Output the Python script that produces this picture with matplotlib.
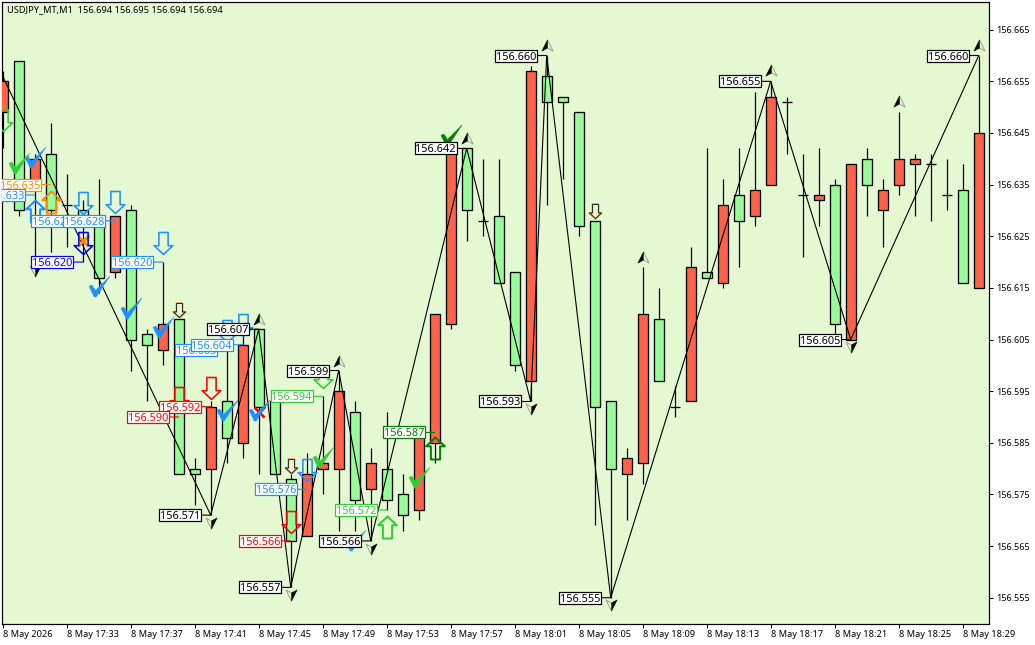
import matplotlib
matplotlib.use("Agg")
import matplotlib.pyplot as plt
from matplotlib.path import Path
from matplotlib.markers import MarkerStyle
from matplotlib.patches import Rectangle
from matplotlib.transforms import Affine2D

plt.rcParams['font.family'] = ['Noto Sans', 'DejaVu Sans']

# ---------- data ----------
opens = [156.655,156.630,156.640,156.630,156.631,156.628,156.617,156.629,156.605,156.604,
         156.608,156.579,156.579,156.592,156.586,156.604,156.592,156.579,156.566,156.579,
         156.581,156.595,156.574,156.581,156.574,156.571,156.587,156.610,156.642,156.630,
         156.628,156.616,156.600,156.657,156.651,156.651,156.627,156.592,156.580,156.582,
         156.610,156.597,156.592,156.619,156.617,156.631,156.628,156.634,156.652,156.651,
         156.633,156.633,156.608,156.639,156.635,156.634,156.640,156.640,156.639,156.633,
         156.616,156.645]
highs = [156.657,156.659,156.641,156.647,156.637,156.632,156.636,156.629,156.631,156.607,
         156.620,156.609,156.582,156.593,156.604,156.606,156.607,156.593,156.579,156.583,
         156.594,156.599,156.593,156.584,156.591,156.579,156.587,156.610,156.642,156.642,
         156.640,156.640,156.618,156.658,156.660,156.652,156.649,156.628,156.593,156.584,
         156.619,156.615,156.596,156.623,156.642,156.636,156.642,156.653,156.655,156.652,
         156.641,156.642,156.636,156.639,156.642,156.636,156.649,156.641,156.641,156.640,
         156.639,156.660]
lows = [156.642,156.629,156.619,156.622,156.623,156.620,156.614,156.617,156.599,156.593,
        156.600,156.579,156.573,156.571,156.581,156.582,156.579,156.579,156.557,156.567,
        156.575,156.568,156.568,156.566,156.572,156.568,156.570,156.581,156.607,156.624,
        156.625,156.616,156.599,156.593,156.631,156.636,156.625,156.569,156.555,156.570,
        156.577,156.597,156.590,156.593,156.617,156.615,156.619,156.627,156.635,156.641,
        156.621,156.627,156.605,156.605,156.629,156.623,156.633,156.629,156.628,156.630,
        156.616,156.615]
closes = [156.649,156.659,156.634,156.641,156.631,156.630,156.629,156.618,156.630,156.606,
          156.603,156.609,156.580,156.580,156.593,156.585,156.607,156.593,156.578,156.567,
          156.580,156.580,156.591,156.576,156.580,156.575,156.572,156.585,156.608,156.642,
          156.628,156.629,156.618,156.597,156.656,156.652,156.649,156.628,156.593,156.579,
          156.581,156.609,156.592,156.593,156.618,156.616,156.633,156.629,156.635,156.651,
          156.633,156.632,156.635,156.605,156.640,156.630,156.635,156.639,156.639,156.633,
          156.634,156.615]

zigzag_bars = [0, 13, 16, 18, 21, 23, 29, 33, 34, 38, 48, 53, 61]
zigzag_prices = [156.656, 156.571, 156.607, 156.557, 156.599, 156.566, 156.642,
                 156.593, 156.660, 156.555, 156.655, 156.605, 156.660]

label_bars = [3, 2, 5, 7, 5, 10, 14, 15, 16, 13, 11, 20, 21, 19, 13, 24, 18, 23, 18,
              27, 29, 34, 33, 38, 48, 53, 61]
label_prices = [156.635, 156.633, 156.628, 156.628, 156.620, 156.620, 156.603, 156.604,
                156.607, 156.592, 156.590, 156.594, 156.599, 156.576, 156.571, 156.572,
                156.566, 156.566, 156.557, 156.587, 156.642, 156.660, 156.593, 156.555,
                156.655, 156.605, 156.660]
label_colors = ['#FF8C00', '#1E90FF', '#1E90FF', '#1E90FF', '#0000FF', '#1E90FF', '#1E90FF',
                '#1E90FF', 'black', '#FF0000', '#FF0000', '#32CD32', 'black', '#1E90FF',
                'black', '#32CD32', '#FF0000', 'black', 'black', '#008000', 'black', 'black',
                'black', 'black', 'black', 'black', 'black']

down_bars = [5, 7, 10, 14, 15, 19, 5, 13, 11, 18, 20, 0]
down_prices = [156.6315, 156.6316, 156.6237, 156.6067, 156.6079, 156.5798, 156.6237,
               156.5957, 156.5937, 156.5696, 156.5977, 156.6476]
down_colors = ['#1E90FF', '#1E90FF', '#1E90FF', '#1E90FF', '#1E90FF', '#1E90FF', '#0000FF',
               '#FF0000', '#FF0000', '#FF0000', '#32CD32', '#32CD32']

up_bars = [2, 3, 24, 27]
up_prices = [156.6298, 156.6317, 156.5687, 156.5839]
up_colors = ['#1E90FF', '#FF8C00', '#32CD32', '#008000']

small_bars = [11, 18, 37]
small_prices = [156.6108, 156.5806, 156.6298]

peak_bars = [16, 21, 29, 34, 48, 61, 56, 40]
peak_prices = [156.6090, 156.6009, 156.6441, 156.6621, 156.6571, 156.6621, 156.6511, 156.6210]
trough_bars = [13, 18, 23, 33, 38, 53, 2]
trough_prices = [156.5695, 156.5556, 156.5645, 156.5916, 156.5535, 156.6036, 156.6183]

check_bars = [2, 6, 8, 10, 14, 16, 22, 1, 20, 26, 28]
check_prices = [156.6404, 156.6154, 156.6112, 156.6075, 156.5914, 156.5914, 156.5662,
                156.6392, 156.5823, 156.5784, 156.6447]
check_colors = ['#1E90FF'] * 7 + ['#32CD32'] * 3 + ['#008000']

cross_bars = [16, 5]
cross_prices = [156.5910, 156.6241]
cross_colors = ['#FF0000', '#FF8C00']

ytick_values = [156.555, 156.565, 156.575, 156.585, 156.595, 156.605, 156.615, 156.625,
                156.635, 156.645, 156.655, 156.665]
ytick_labels = ['156.555', '156.565', '156.575', '156.585', '156.595', '156.605', '156.615',
                '156.625', '156.635', '156.645', '156.655', '156.665']
xtick_bars = [0, 4, 8, 12, 16, 20, 24, 28, 32, 36, 40, 44, 48, 52, 56, 60]
xtick_labels = ['8 May 2026', '8 May 17:33', '8 May 17:37', '8 May 17:41', '8 May 17:45',
                '8 May 17:49', '8 May 17:53', '8 May 17:57', '8 May 18:01', '8 May 18:05',
                '8 May 18:09', '8 May 18:13', '8 May 18:17', '8 May 18:21', '8 May 18:25',
                '8 May 18:29']
title_text = 'USDJPY_MT,M1  156.694 156.695 156.694 156.694'

# ---------- styles ----------
BG = '#E4F8D2'
UP = '#98FB98'
DOWN = '#FF6347'
px = 0.72

fig = plt.figure(figsize=(10.35, 6.45), dpi=100, facecolor='white')
ax = fig.add_axes([1.7 / 1035, 1 - 623.7 / 645, 987 / 1035, 622 / 645], facecolor=BG)
ax.set_xlim(-0.0625, 61.625)
ax.set_ylim(156.54997, 156.67042)

# candles
n = len(opens)
xs = list(range(n))
ax.vlines(xs, lows, highs, color='black', lw=1.2 * px, zorder=2)
bottoms = [min(o, c) for o, c in zip(opens, closes)]
heights = [abs(o - c) for o, c in zip(opens, closes)]
cols = [UP if c >= o else DOWN for o, c in zip(opens, closes)]
ax.bar(xs, heights, width=10 / 16, bottom=bottoms, color=cols, edgecolor='black',
       linewidth=1.3 * px, zorder=3)

# zigzag
ax.plot(zigzag_bars, zigzag_prices, color='black', lw=1.1 * px, zorder=4)

# marker shapes
down_arrow = Path([(-0.42, 1), (0.42, 1), (0.42, -0.2), (0.85, -0.2), (0, -1), (-0.85, -0.2),
                   (-0.42, -0.2), (-0.42, 1)], closed=True)
up_arrow = Path([(-0.42, -1), (0.42, -1), (0.42, 0.2), (0.85, 0.2), (0, 1), (-0.85, 0.2),
                 (-0.42, 0.2), (-0.42, -1)], closed=True)
check = Path([(-1, 0.02), (-0.72, 0.14), (-0.38, -0.38), (1, 1), (-0.32, -1), (-0.5, -1),
              (-1, 0.02)], closed=True)
head_full = Path([(0, 1), (1, -1), (0, -0.45), (-1, -1), (0, 1)], closed=True)
head_half = Path([(0, 1), (0, -0.45), (-1, -1), (0, 1)], closed=True)
trough_full = Path([(0, -1), (1, 1), (0, 0.45), (-1, 1), (0, -1)], closed=True)
trough_half = Path([(0, -1), (1, 1), (0, 0.45), (0, -1)], closed=True)
cross = Path([(-1, 1), (1, -1), (0, 0), (1, 1), (-1, -1)],
             [Path.MOVETO, Path.LINETO, Path.MOVETO, Path.LINETO, Path.LINETO])

# checks and crosses go under the arrows
for b, p, c in zip(cross_bars, cross_prices, cross_colors):
    ax.plot([b], [p], marker=MarkerStyle(cross), ms=10 * px, mew=2.6 * px, mec=c,
            mfc='none', ls='none', zorder=5)
for b, p, c in zip(check_bars, check_prices, check_colors):
    ax.plot([b], [p], marker=check, ms=21 * px, mfc=c, mec=c, mew=0.3,
            ls='none', zorder=6)

# big hollow arrows
for b, p, c in zip(down_bars, down_prices, down_colors):
    ax.plot([b], [p], marker=down_arrow, ms=22 * px, mfc='none', mec=c, mew=1.6 * px,
            ls='none', zorder=7, clip_on=True)
for b, p, c in zip(up_bars, up_prices, up_colors):
    ax.plot([b], [p], marker=up_arrow, ms=22 * px, mfc='none', mec=c, mew=2.0 * px,
            ls='none', zorder=7)

# small signal arrows: tan shadow with a black outline
ax.plot(small_bars, small_prices, marker=down_arrow, ms=15 * px, mfc='none', mec='#D9A060',
        mew=1.6 * px, ls='none', zorder=7)
ax.plot(small_bars, small_prices, marker=down_arrow, ms=14 * px, mfc='none', mec='#202020',
        mew=0.9 * px, ls='none', zorder=7)

# zigzag pivot heads
ax.plot(peak_bars, peak_prices, marker=head_full, ms=11 * px, mfc='none', mec='#9A9A80',
        mew=0.9 * px, ls='none', zorder=7)
ax.plot(peak_bars, peak_prices, marker=head_half, ms=11 * px, mfc='black', mec='black',
        mew=0.3, ls='none', zorder=7)
ax.plot(trough_bars, trough_prices, marker=trough_full, ms=11 * px, mfc='none', mec='#9A9A80',
        mew=0.9 * px, ls='none', zorder=7)
ax.plot(trough_bars, trough_prices, marker=trough_half, ms=11 * px, mfc='black', mec='black',
        mew=0.3, ls='none', zorder=7)

# price labels: leader line, box, value (each label sits on top of the previous one)
for k, (b, p, c) in enumerate(zip(label_bars, label_prices, label_colors)):
    z = 8 + k * 0.01
    ax.annotate('', xy=(b, p), xytext=(-10 * px, 0), textcoords='offset points',
                arrowprops=dict(arrowstyle='-', color=c, lw=1.1 * px, shrinkA=0, shrinkB=0),
                zorder=z)
    cx, cy = ax.transData.transform((b, p))
    box = Rectangle((-52, -6), 42, 12, fc='white', ec=c, lw=1.2 * px,
                    transform=Affine2D().translate(cx, cy), zorder=z + 0.001)
    ax.add_patch(box)
    box.set_clip_path(ax.patch)
    ax.annotate(f'{p:.3f}', xy=(b, p), xytext=(-31 * px, 0), textcoords='offset points',
                ha='center', va='center_baseline', fontsize=7.9, color=c, clip_on=True,
                zorder=z + 0.002)

# title
ax.text(5.5 / 987, 1 - 8 / 622, title_text, transform=ax.transAxes, fontsize=6.7,
        color='black', va='center', ha='left', zorder=9)

# axes
ax.yaxis.tick_right()
ax.set_yticks(ytick_values, ytick_labels)
ax.set_xticks(xtick_bars, xtick_labels)
ax.tick_params(axis='y', length=4 * px, width=1 * px, pad=3 * px, labelsize=6.5, color='black')
ax.tick_params(axis='x', length=4 * px, width=1 * px, pad=2 * px, labelsize=6.6, color='black')
for t in ax.get_xticklabels():
    t.set_ha('left')
for s in ax.spines.values():
    s.set_linewidth(1.2 * px)
    s.set_color('black')

fig.savefig('out.png', dpi=100)
